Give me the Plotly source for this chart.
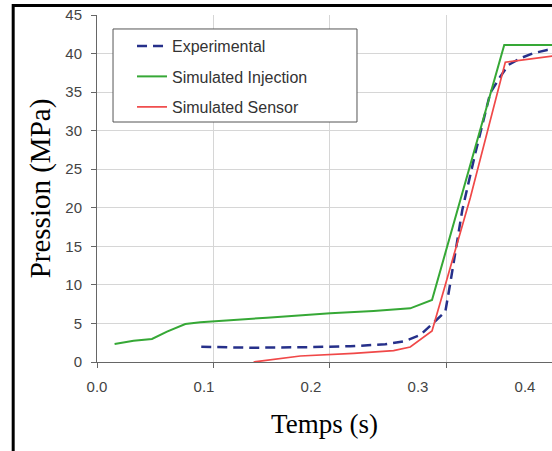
import plotly.graph_objects as go

# ---- data ----
inj_t = [0.0151, 0.0314, 0.0472, 0.0601, 0.0758, 0.0887, 0.1459, 0.2003, 0.2374, 0.2689, 0.2876, 0.3496, 0.3950]
inj_p = [2.33, 2.76, 2.98, 3.93, 4.93, 5.16, 5.75, 6.32, 6.61, 6.96, 8.04, 41.1, 41.1]

exp_t = [0.0895, 0.1316, 0.1745, 0.2174, 0.2475, 0.2646, 0.2775, 0.2887, 0.2990, 0.3033, 0.3084,
         0.3136, 0.3248, 0.3376, 0.3462, 0.3531, 0.3634, 0.3745, 0.3865, 0.3943]
exp_p = [1.98, 1.85, 1.91, 2.04, 2.30, 2.72, 3.50, 5.02, 6.52, 10.24, 15.17,
         19.71, 27.10, 34.89, 37.0, 38.52, 39.39, 40.04, 40.47, 40.66]

sen_t = [0.1344, 0.1745, 0.2203, 0.2546, 0.2689, 0.2876, 0.2961, 0.3204, 0.3505, 0.3943]
sen_p = [0.0, 0.78, 1.13, 1.47, 1.95, 4.02, 8.47, 21.27, 38.87, 39.75]

x_tick_vals = [0.0, 0.1, 0.2, 0.3, 0.4]
x_tick_text = ["0.0", "0.1", "0.2", "0.3", "0.4"]
y_tick_vals = [0, 5, 10, 15, 20, 25, 30, 35, 40, 45]

tick_font = dict(family="Liberation Sans, Arial", size=15, color="#444444")
xtitle_font = dict(family="Liberation Serif, Times New Roman", size=27, color="black")
ytitle_font = dict(family="Liberation Serif, Times New Roman", size=29, color="black")

fig = go.Figure()
fig.add_trace(go.Scatter(x=exp_t, y=exp_p, mode="lines", name="Experimental",
                         line=dict(color="#26308a", width=2.5, dash="10px,6px"), legendgroup="a"))
fig.add_trace(go.Scatter(x=inj_t, y=inj_p, mode="lines", name="Simulated Injection",
                         line=dict(color="#36a836", width=2), legendgroup="b"))
fig.add_trace(go.Scatter(x=sen_t, y=sen_p, mode="lines", name="Simulated Sensor",
                         line=dict(color="#f04848", width=1.7), legendgroup="c"))
# carrier for the label axis
fig.add_trace(go.Scatter(x=[], y=[], xaxis="x2", showlegend=False, hoverinfo="skip"))

fig.update_layout(
    width=552, height=451, autosize=False,
    margin=dict(l=97, r=0, t=15, b=89),
    paper_bgcolor="white", plot_bgcolor="white",
    showlegend=True,
    legend=dict(x=0.0352, y=0.9597, xanchor="left", yanchor="top",
                bgcolor="rgba(0,0,0,0)", borderwidth=0,
                font=dict(family="Liberation Sans, Arial", size=16, color="#333333"),
                tracegroupgap=6.7, indentation=19,
                traceorder="grouped"),
    xaxis=dict(range=[0, 0.3906], tickvals=x_tick_vals, showticklabels=False,
               ticks="outside", ticklen=5, tickcolor="#666666",
               showline=True, linecolor="#666666", linewidth=1,
               showgrid=True, gridcolor="#d6d6d6", gridwidth=1, zeroline=False),
    xaxis2=dict(range=[0, 0.4252], overlaying="x", anchor="y", side="bottom",
                tickvals=x_tick_vals, ticktext=x_tick_text, tickfont=tick_font,
                showgrid=False, showline=False, zeroline=False, ticks="",
                ticklabelstandoff=14,
                title=dict(text="Temps (s)", font=xtitle_font, standoff=20)),
    yaxis=dict(range=[0, 45], tickvals=y_tick_vals, tickfont=tick_font,
               ticks="outside", ticklen=5, tickcolor="#666666",
               showline=True, linecolor="#666666", linewidth=1,
               showgrid=True, gridcolor="#d6d6d6", gridwidth=1, zeroline=False,
               ticklabelstandoff=6,
               title=dict(text="Pression (MPa)", font=ytitle_font, standoff=6)),
    shapes=[
        # legend frame
        dict(type="rect", xref="paper", yref="paper", x0=0.0352, x1=0.5714, y0=0.6916, y1=0.9597,
             fillcolor="white", line=dict(color="#555555", width=1), layer="above"),
        # outer picture frame (top and left edges)
        dict(type="line", xref="paper", yref="paper", x0=-0.1842, x1=1.01, y0=1.0274, y1=1.0274,
             line=dict(color="black", width=3)),
        dict(type="line", xref="paper", yref="paper", x0=-0.1842, x1=-0.1842, y0=-0.27, y1=1.0317,
             line=dict(color="black", width=3)),
    ],
)

fig.write_html("out.html")
